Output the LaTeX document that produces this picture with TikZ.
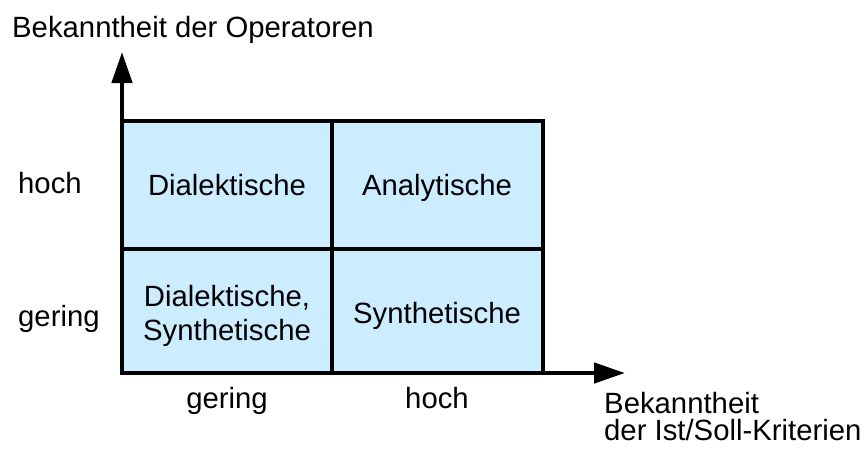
\documentclass[tikz,border=0pt]{standalone}
\usepackage{fontspec}
\setmainfont{Liberation Sans}
\usetikzlibrary{arrows.meta}
\definecolor{cellblue}{HTML}{CCECFF}
\tikzset{
  lbl/.style={inner sep=0pt, font=\fontsize{29.3}{34}\selectfont},
  axis/.style={line width=4.5pt, -{Triangle[length=31pt,width=20pt]}},
  gridline/.style={line width=4pt},
}
\begin{document}
\begin{tikzpicture}[x=1pt,y=-1pt]
\useasboundingbox (0,0) rectangle (864,451);

% quadrant field
\fill[cellblue] (122,120.5) rectangle (542.5,373);
\draw[gridline] (332,120.5) -- (332,373);
\draw[gridline] (122,249) -- (542.5,249);
\draw[gridline] (122,120.5) -- (542.5,120.5) -- (542.5,373);

% axes
\coordinate (o) at (122,373);
\coordinate (ytip) at (122,52);
\coordinate (xtip) at (625,373);
\draw[axis] ([yshift=2pt]o) -- (ytip);
\draw[axis] ([xshift=-2pt]o) -- (xtip);

% axis titles
\node[lbl, anchor=base west] (ytitle) at (12,37) {Bekanntheit der Operatoren};
\node[lbl, anchor=base west] (xtitle1) at (604,413) {Bekanntheit};
\node[lbl, anchor=base west] (xtitle2) at (604,440) {der Ist/Soll-Kriterien};

% row labels
\node[lbl, anchor=base west] (yhoch) at (18,193) {hoch};
\node[lbl, anchor=base west] (ygering) at (18,326) {gering};

% column labels
\node[lbl, anchor=base] (xgering) at (227,408) {gering};
\node[lbl, anchor=base] (xhoch) at (437,408) {hoch};

% cells
\node[lbl, anchor=base] (dial) at (227,195) {Dialektische};
\node[lbl, anchor=base] (anal) at (437,195) {Analytische};
\node[lbl, align=center] (dialsyn) at (227,315.5) {Dialektische,\\Synthetische};
\node[lbl, anchor=base] (syn) at (437,323) {Synthetische};
\end{tikzpicture}
\end{document}
